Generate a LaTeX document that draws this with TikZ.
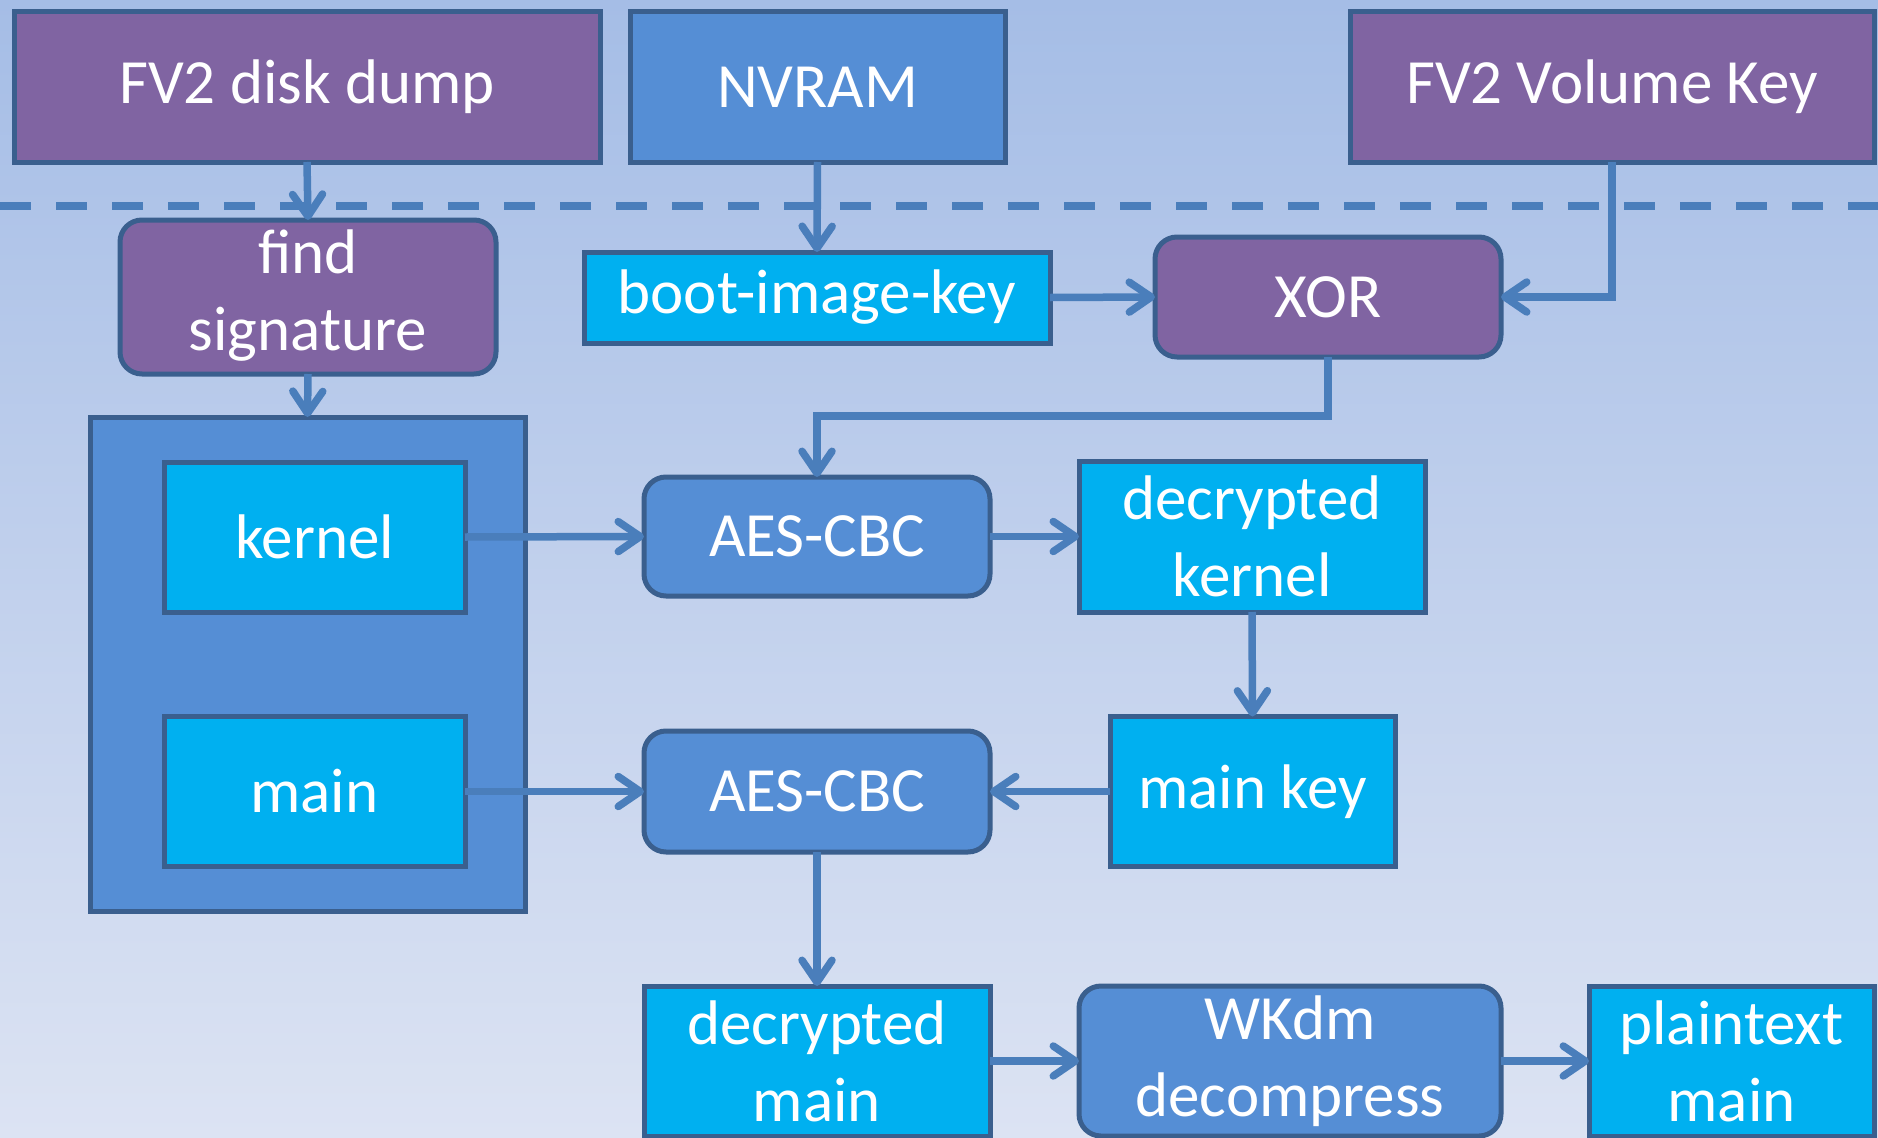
\documentclass[tikz,border=0pt]{standalone}
\usepackage{fontspec}
\setmainfont{Carlito}
\usetikzlibrary{arrows.meta}
\definecolor{bgtop}{HTML}{A5BDE6}
\definecolor{bgbot}{HTML}{DCE3F3}
\definecolor{purp}{HTML}{8064A2}
\definecolor{midblue}{HTML}{558ED5}
\definecolor{cyanbox}{HTML}{00B0F0}
\definecolor{edge}{HTML}{3A5F8E}
\definecolor{arrowc}{HTML}{4A7EBB}
\tikzset{
  box/.style={draw=edge, line width=5pt, inner sep=0pt, outer sep=0pt, text=white,
    align=center, font=\fontsize{63}{77}\selectfont},
  purplebox/.style={box, fill=purp},
  bluebox/.style={box, fill=midblue},
  cyanbx/.style={box, fill=cyanbox},
  rnd/.style={rounded corners=22pt},
  flow/.style={draw=arrowc, line width=7.5pt,
    -{Straight Barb[length=22pt,width=30pt,line cap=round,line join=round]}},
}
\begin{document}
\begin{tikzpicture}[x=1pt,y=-1pt]
\shade[top color=bgtop, bottom color=bgbot] (0,0) rectangle (1878,1137);
\useasboundingbox (0,0) rectangle (1878,1137);
\clip (0,0) rectangle (1878,1137);
% dashed separator
\draw[arrowc, line width=8.5pt, dash pattern=on 31pt off 25pt] (0,206) -- (1878,206);
% top row
\node[purplebox, minimum width=586pt, minimum height=150pt] (dump) at (307,87) {FV2 disk dump};
\node[bluebox, minimum width=375pt, minimum height=150pt] (nvram) at (817.5,87) {NVRAM};
\node[purplebox, minimum width=524pt, minimum height=150pt] (fvk) at (1612,87) {FV2 Volume Key};
% second row
\node[purplebox, rnd, minimum width=376pt, minimum height=150pt] (findsig) at (308,297)
  {\raisebox{-6pt}{\begin{tabular}{@{}c@{}}find\\signature\end{tabular}}};
\node[cyanbx, minimum width=466pt, minimum height=91pt] (bik) at (817,297.5) {boot-image-key};
\node[purplebox, rnd, minimum width=346pt, minimum height=120pt] (xor) at (1328,297) {XOR};
% container
\node[bluebox, minimum width=435pt, minimum height=494pt] (cont) at (307.5,664) {};
\node[cyanbx, minimum width=301pt, minimum height=150pt] (kernel) at (314.5,537) {kernel};
\node[cyanbx, minimum width=301pt, minimum height=150pt] (main) at (314.5,791.5) {main};
% middle
\node[bluebox, rnd, minimum width=346pt, minimum height=119pt] (aes1) at (817,536.5) {AES-CBC};
\node[cyanbx, minimum width=346pt, minimum height=151pt] (deck) at (1252,536.5) {decrypted\\kernel};
\node[cyanbx, minimum width=285pt, minimum height=150pt] (mkey) at (1252.5,791.5) {main key};
\node[bluebox, rnd, minimum width=346pt, minimum height=121pt] (aes2) at (817,791.5) {AES-CBC};
% bottom
\node[cyanbx, minimum width=346pt, minimum height=150pt] (decm) at (817,1061) {decrypted\\main};
\node[bluebox, rnd, minimum width=422pt, minimum height=150pt] (wkdm) at (1290,1061) {WKdm\\decompress};
\node[cyanbx, minimum width=285pt, minimum height=150pt] (ptm) at (1731.5,1061) {plaintext\\main};
% connectors
\coordinate (xorbend) at (1328,416);
\draw[flow] (dump.south) -- (findsig.north);
\draw[flow] (findsig.south) -- (cont.north);
\draw[flow] (nvram.south) -- (bik.north);
\draw[flow] (bik.east) -- (xor.west);
\draw[flow] (fvk.south) |- (xor.east);
\draw[flow] (xor.south) -- (xorbend) -| (aes1.north);
\draw[flow] (kernel.east) -- (aes1.west);
\draw[flow] (aes1.east) -- (deck.west);
\draw[flow] (deck.south) -- (mkey.north);
\draw[flow] (main.east) -- (aes2.west);
\draw[flow] (mkey.west) -- (aes2.east);
\draw[flow] (aes2.south) -- (decm.north);
\draw[flow] (decm.east) -- (wkdm.west);
\draw[flow] (wkdm.east) -- (ptm.west);
\end{tikzpicture}
\end{document}
